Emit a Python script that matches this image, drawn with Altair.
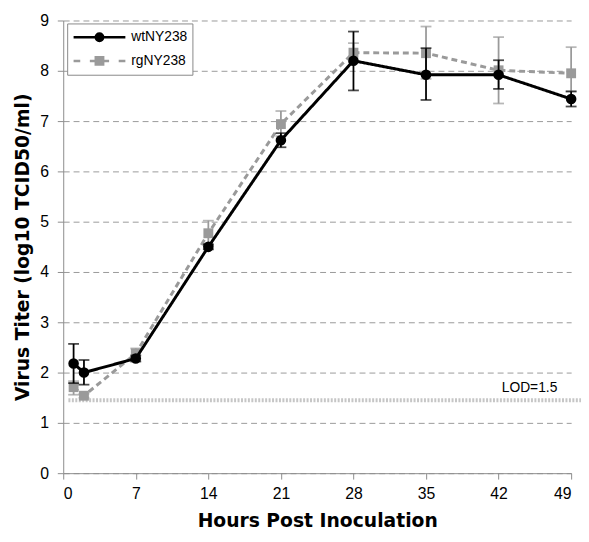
import altair as alt
import pandas as pd

# ---- data ----
hours = [1, 2, 7, 14, 21, 28, 35, 42, 49]
wt_mean = [2.18, 2.00, 2.28, 4.50, 6.62, 8.20, 7.92, 7.92, 7.44]
wt_lo = [1.79, 1.76, 2.22, 4.45, 6.48, 7.61, 7.42, 7.64, 7.29]
wt_hi = [2.57, 2.25, 2.34, 4.55, 6.76, 8.78, 8.45, 8.21, 7.59]
rg_mean = [1.71, 1.54, 2.38, 4.77, 6.94, 8.36, 8.35, 8.01, 7.95]
rg_lo = [1.56, 1.50, 2.28, 4.53, 6.70, 8.18, 7.84, 7.35, 7.59]
rg_hi = [1.83, 1.58, 2.48, 5.02, 7.20, 8.55, 8.88, 8.67, 8.47]
series_names = ["wtNY238", "rgNY238"]
lod_x = [0.5, 51]
lod_y = 1.45
lod_label = "LOD=1.5"
x_ticks = [0, 7, 14, 21, 28, 35, 42, 49]
y_ticks = list(range(10))
X_TITLE = "Hours Post Inoculation"
Y_TITLE = "Virus Titer (log10 TCID50/ml)"

wt = pd.DataFrame({"h": hours, "m": wt_mean, "lo": wt_lo, "hi": wt_hi})
rg = pd.DataFrame({"h": hours, "m": rg_mean, "lo": rg_lo, "hi": rg_hi})
lod = pd.DataFrame({"h": lod_x, "m": [lod_y] * len(lod_x)})
lodtxt = pd.DataFrame({"h": [x_ticks[-1]], "m": [lod_y], "t": [lod_label]})
leg = pd.DataFrame({"h": hours[:2], "m": wt_mean[:2], "s": series_names})

FONT = "Liberation Sans"
TFONT = "DejaVu Sans"
BLACK = "#000000"
GRAY = "#9a9a9a"

xs = alt.Scale(domain=[0, 49], nice=False, zero=False)
ys = alt.Scale(domain=[0, 9], nice=False)
xax = alt.Axis(values=x_ticks, grid=False, tickSize=6, labelPadding=7,
               titlePadding=10)
yax = alt.Axis(values=y_ticks, grid=True, tickSize=6, labelPadding=9,
               titlePadding=7)


def X(f):
    return alt.X(f"{f}:Q", scale=xs, axis=xax, title=X_TITLE)


def Y(f):
    return alt.Y(f"{f}:Q", scale=ys, axis=yax, title=Y_TITLE)


def series_layers(df, color, dash, shape, size):
    line = alt.Chart(df).mark_line(color=color, strokeWidth=3, strokeDash=dash).encode(
        x=X("h"), y=Y("m"))
    err = alt.Chart(df).mark_errorbar(color=color, thickness=1.8,
                                      ticks={"size": 11}).encode(
        x=X("h"), y=Y("lo"), y2=alt.Y2("hi"))
    pts = alt.Chart(df).mark_point(filled=True, opacity=1, color=color,
                                   shape=shape, size=size).encode(
        x=X("h"), y=Y("m"))
    return [line, err, pts]


lod_line = alt.Chart(lod).mark_line(color="#c6c6c6", strokeWidth=4,
                                    strokeDash=[2, 1.5], clip=False).encode(
    x=X("h"), y=Y("m"))
lod_text = alt.Chart(lodtxt).mark_text(align="right", baseline="bottom", dx=-14, dy=-5,
                                       font=FONT, fontSize=14, color="#000").encode(
    x=X("h"), y=Y("m"), text="t:N")

wt_path = "M-1,0L6,0M2,0A0.5,0.5,0,1,1,3,0A0.5,0.5,0,1,1,2,0Z"
rg_path = ("M-1,0L-0.1,0M1.2,0L2,0M3,0L3.8,0M5.1,0L6,0"
           "M2,-0.5L3,-0.5L3,0.5L2,0.5Z")
legend = alt.Legend(title=None, orient="none", legendX=4, legendY=3,
                    fillColor="white", strokeColor="#888888", padding=5,
                    symbolSize=225, symbolStrokeWidth=2.5, labelOffset=42,
                    labelFont=FONT, labelFontSize=14, labelColor="#000",
                    rowPadding=6, symbolOpacity=1)
leg_layer = alt.Chart(leg).mark_point(filled=True, size=225, opacity=1).encode(
    x=X("h"), y=Y("m"),
    shape=alt.Shape("s:N", scale=alt.Scale(domain=series_names, range=[wt_path, rg_path]),
                    legend=legend),
    fill=alt.Fill("s:N", scale=alt.Scale(domain=series_names, range=[BLACK, GRAY]),
                  legend=legend),
    stroke=alt.Stroke("s:N", scale=alt.Scale(domain=series_names, range=[BLACK, GRAY]),
                      legend=legend),
).transform_filter("false")

layers = ([lod_line, lod_text]
          + series_layers(rg, GRAY, [6, 4], "square", 100)
          + series_layers(wt, BLACK, [1, 0], "circle", 115)
          + [leg_layer])

chart = alt.layer(*layers).properties(
    width=515, height=459,
    autosize=alt.AutoSizeParams(type="none"),
    padding={"left": 56, "top": 9, "right": 10, "bottom": 58},
).configure_view(stroke=None).configure_axis(
    domainColor="#8c8c8c", tickColor="#8c8c8c", gridColor="#999999",
    gridDash=[6, 4], gridWidth=1, labelFont=FONT, labelFontSize=16,
    labelColor="#000", titleFont=TFONT, titleFontSize=19, titleFontWeight="bold",
    titleColor="#000",
)

chart.save("out.html", embed_options={"renderer": "svg", "actions": False})
